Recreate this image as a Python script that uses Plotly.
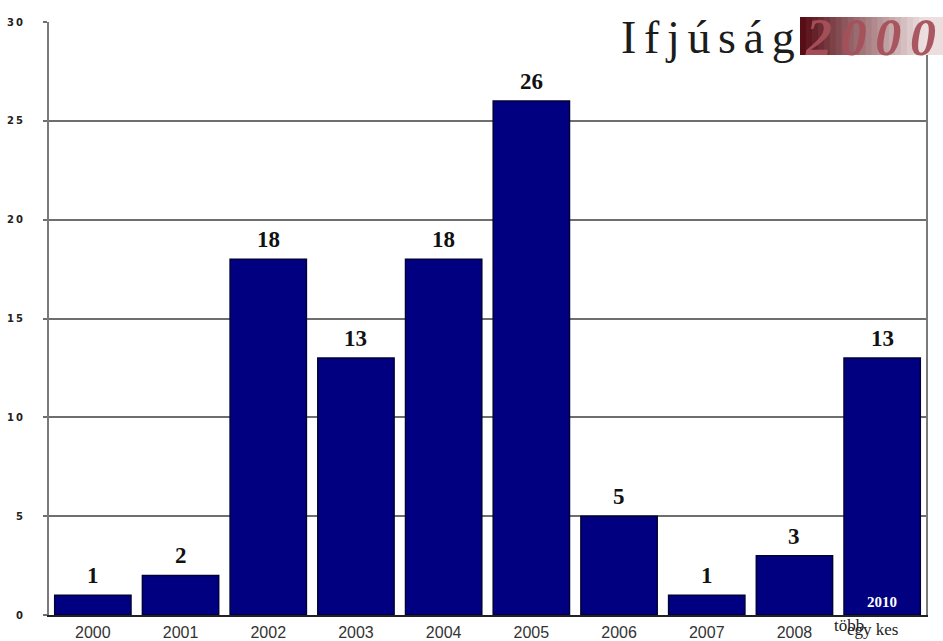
import plotly.graph_objects as go

# Counts per year
years = ["2000", "2001", "2002", "2003", "2004", "2005", "2006", "2007", "2008", "2010"]
counts = [1, 2, 18, 13, 18, 26, 5, 1, 3, 13]
tick_labels = ["2000", "2001", "2002", "2003", "2004", "2005", "2006", "2007", "2008", ""]
y_ticks = [0, 5, 10, 15, 20, 25, 30]
y_tick_text = ["0", "5", "1\u20090", "1\u20095", "2\u20090", "2\u20095", "3\u20090"]

# plot area in pixels (used to place the logo pieces)
L, R, T, B = 49, 926, 22, 615
W, H = R - L, B - T


def px(x):
    return (x - L) / W


def py(y):
    return (B - y) / H


fig = go.Figure()
fig.add_trace(go.Bar(
    x=years, y=counts,
    marker=dict(color="#000080", line=dict(color="#00003a", width=1.5)),
    width=0.87,
    hoverinfo="x+y",
))

annotations = []
# value labels above each bar (category index as x position)
for i, v in enumerate(counts):
    annotations.append(dict(
        x=i, y=v, xref="x", yref="y", text=str(v), showarrow=False,
        yanchor="bottom", yshift=5,
        font=dict(family="Liberation Serif", size=23, color="#111111", weight="bold"),
    ))

# year label inside the last bar
annotations.append(dict(
    x=len(years) - 1, y=0, xref="x", yref="y", text=years[-1], showarrow=False,
    yanchor="bottom", yshift=3,
    font=dict(family="Liberation Serif", size=15, color="white", weight="bold"),
))
# overlapping caption under the last bar
annotations.append(dict(
    x=px(872), y=py(629), xref="paper", yref="paper", text="egy kes", showarrow=False,
    xanchor="center", yanchor="middle",
    font=dict(family="Liberation Serif", size=17, color="#222222"),
))
annotations.append(dict(
    x=px(849), y=py(626), xref="paper", yref="paper", text="több", showarrow=False,
    xanchor="center", yanchor="middle",
    font=dict(family="Liberation Serif", size=17, color="#222222"),
))

# logo: title word on a white plate
sp = "\u2006"
annotations.append(dict(
    x=px(618), y=py(37), xref="paper", yref="paper",
    text=sp.join("Ifjúság"), showarrow=False,
    xanchor="left", yanchor="middle", bgcolor="white", borderpad=2,
    font=dict(family="Liberation Serif", size=46, color="#1c1c1c"),
))

shapes = []
# logo: fading maroon band behind the year
c0 = (88, 14, 22)
c1 = (236, 222, 222)
n = 24
x0, x1 = 800, 943
for i in range(n):
    t = i / (n - 1)
    t2 = min(1.0, t * 1.15)
    col = tuple(int(a + (b - a) * t2) for a, b in zip(c0, c1))
    shapes.append(dict(
        type="rect", xref="paper", yref="paper",
        x0=px(x0 + (x1 - x0) * i / n), x1=px(x0 + (x1 - x0) * (i + 1) / n + 0.5),
        y0=py(55), y1=py(17), line=dict(width=0),
        fillcolor="rgb(%d,%d,%d)" % col, layer="above",
    ))

annotations.append(dict(
    x=px(803), y=py(37), xref="paper", yref="paper", text=sp.join("2000"),
    showarrow=False, xanchor="left", yanchor="middle",
    font=dict(family="Liberation Serif", size=52, color="rgba(165,80,90,0.95)",
              style="italic", weight="bold"),
))

fig.update_layout(
    width=943, height=641,
    margin=dict(l=L, r=943 - R, t=T, b=641 - B),
    paper_bgcolor="white", plot_bgcolor="white",
    showlegend=False, bargap=0.13,
    annotations=annotations, shapes=shapes,
    xaxis=dict(
        type="category", automargin=False,
        tickvals=years, ticktext=tick_labels, showgrid=False,
        showline=True, linecolor="#222222", linewidth=2,
        ticks="", ticklabelstandoff=2,
        tickfont=dict(family="Liberation Sans", size=16, color="#333333"),
        fixedrange=True,
    ),
    yaxis=dict(
        range=[0, 30], tickvals=y_ticks, ticktext=y_tick_text, automargin=False,
        showgrid=True, gridcolor="#6e6e6e", gridwidth=2,
        zeroline=False, showline=True, linecolor="#7a7a7a", linewidth=2, mirror=True,
        ticks="outside", ticklen=4, tickcolor="#6e6e6e", tickwidth=2,
        ticklabelstandoff=18,
        tickfont=dict(family="DejaVu Sans", size=10, color="#222222", weight="bold"),
        fixedrange=True,
    ),
)

fig.write_html("out.html")
